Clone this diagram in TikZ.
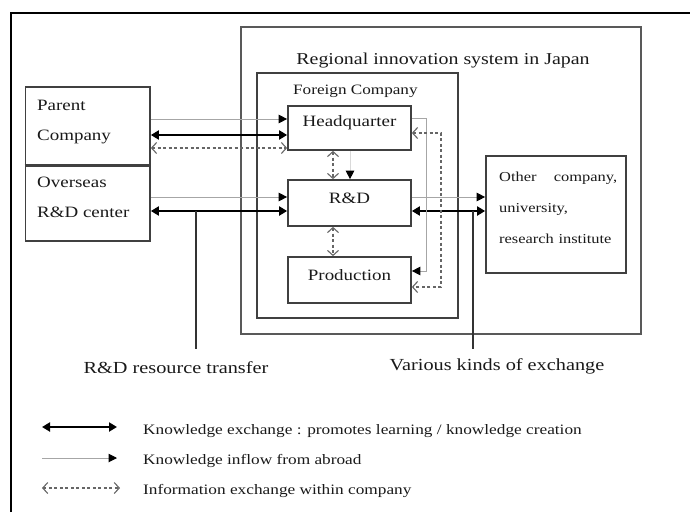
\documentclass[tikz,border=0pt]{standalone}
\usepackage{fontspec}
\setmainfont[FakeStretch=1.2]{Liberation Serif}
\usetikzlibrary{arrows.meta}
\begin{document}
\begin{tikzpicture}[x=1pt,y=-1pt,
  box/.style={draw=black!75, line width=1.7pt, inner sep=0pt},
  boxtxt/.style={inner sep=0pt, font=\fontsize{15.8}{30}\selectfont, text=black!90, align=left},
  small/.style={inner sep=0pt, font=\fontsize{14.3}{17}\selectfont, text=black!90},
  big/.style={inner sep=0pt, font=\fontsize{16.9}{20}\selectfont, text=black!90},
  legtxt/.style={inner sep=0pt, font=\fontsize{14.4}{17}\selectfont, text=black!90, anchor=west},
  inflow/.style={draw=black!35, line width=1pt, -{Triangle[length=8.5pt,width=8.5pt,fill=black,color=black]}},
  exch/.style={draw=black, line width=2.4pt, {Triangle[length=8pt,width=9pt]}-{Triangle[length=8pt,width=9pt]}},
  info/.style={draw=black!60, line width=1.2pt, dash pattern=on 3pt off 2.5pt,
     {Straight Barb[length=5pt,width=11pt,line width=1.1pt]}-{Straight Barb[length=5pt,width=11pt,line width=1.1pt]}},
  pointer/.style={draw=black!80, line width=1.4pt}
]
\useasboundingbox (0,0) rectangle (690,514);
% frame
\draw[line width=2pt, black] (10.5,512) -- (10.5,13) -- (690,13);

% regional system
\node[box, draw=black!65, minimum width=400, minimum height=307] (ris) at (441,180.5) {};
\node[big, font=\fontsize{16.6}{20}\selectfont] (ristitle) at (443,61) {Regional innovation system in Japan};
% foreign company
\node[box, minimum width=201, minimum height=245] (fc) at (357.5,195.5) {};
\node[small, anchor=west] (fctitle) at (293,91) {Foreign Company};
% internal units
\node[box, minimum width=123, minimum height=44] (hq) at (349.5,128) {};
\node[boxtxt] (hqt) at (349.5,123) {Headquarter};
\node[box, minimum width=123, minimum height=46] (rd) at (349.5,203) {};
\node[boxtxt] (rdt) at (349.5,198) {R\&D};
\node[box, minimum width=123, minimum height=46] (pr) at (349.5,280) {};
\node[boxtxt] (prt) at (349.5,275) {Production};
% parent / overseas
\node[box, minimum width=124.5, minimum height=78] (parent) at (87.75,126) {};
\node[boxtxt, anchor=west] (parentt) at (37,122) {Parent\\Company};
\node[box, minimum width=124.5, minimum height=76] (os) at (87.75,203) {};
\node[boxtxt, anchor=west] (ost) at (37,197.5) {Overseas\\R\&D center};
\draw[black!75, line width=2.8pt] (parent.south west) -- (parent.south east);
% other
\node[box, minimum width=140, minimum height=117] (oth) at (556,214.5) {};
\node[inner sep=0pt, font=\fontsize{13.7}{31}\selectfont, text=black!90, align=left, text width=118, anchor=west] (otht) at (499,207.5)
  {Other\hfill company,\\university,\\research institute};

% helper y levels
\coordinate (yA) at (0,119);
\coordinate (yB) at (0,135);
\coordinate (yC) at (0,148);
\coordinate (yD) at (0,197);
\coordinate (yE) at (0,211);
\coordinate (yF) at (0,118);
\coordinate (yG) at (0,271);
\coordinate (yH) at (0,133);
\coordinate (yI) at (0,287);

% parent <-> HQ
\draw[inflow] (parent.east |- yA) -- (hq.west |- yA);
\draw[exch] (parent.east |- yB) -- (hq.west |- yB);
\draw[info] (parent.east |- yC) -- (hq.west |- yC);
% overseas <-> R&D
\draw[inflow] (os.east |- yD) -- (rd.west |- yD);
\draw[exch] (os.east |- yE) -- (rd.west |- yE);
% R&D <-> other
\draw[inflow] (rd.east |- yD) -- (oth.west |- yD);
\draw[exch] (rd.east |- yE) -- (oth.west |- yE);
% vertical internal
\coordinate (xV) at (333,0);
\coordinate (xW) at (350,0);
\draw[info] (hq.south -| xV) -- (rd.north -| xV);
\draw[info] (rd.south -| xV) -- (pr.north -| xV);
\draw[inflow, draw=black!15] (hq.south -| xW) -- (rd.north -| xW);
% HQ -> production
\coordinate (c1) at (426,118);
\coordinate (c2) at (426,271);
\draw[inflow] (hq.east |- yF) -- (c1) -- (c2) -- (pr.east |- yG);
\coordinate (d1) at (441,133);
\coordinate (d2) at (441,287);
\draw[info] (hq.east |- yH) -- (d1) -- (d2) -- (pr.east |- yI);

% pointer lines
\node[big] (transfer) at (176,368) {R\&D resource transfer};
\node[big] (various) at (497,366) {Various kinds of exchange};
\coordinate (p1) at (196,211);
\coordinate (p1e) at (196,349);
\coordinate (p2) at (473,211);
\coordinate (p2e) at (473,349);
\draw[pointer] (p1) -- (p1e);
\draw[pointer] (p2) -- (p2e);

% legend
\coordinate (l1a) at (42,427); \coordinate (l1b) at (117,427);
\coordinate (l2a) at (42,458); \coordinate (l2b) at (117,458);
\coordinate (l3a) at (42,488); \coordinate (l3b) at (120,488);
\draw[exch] (l1a) -- (l1b);
\draw[inflow] (l2a) -- (l2b);
\draw[info] (l3a) -- (l3b);
\node[legtxt] (leg1) at (143,431) {Knowledge exchange : promotes learning / knowledge creation};
\node[legtxt] (leg2) at (143,461) {Knowledge inflow from abroad};
\node[legtxt] (leg3) at (143,491) {Information exchange within company};
\end{tikzpicture}
\end{document}
